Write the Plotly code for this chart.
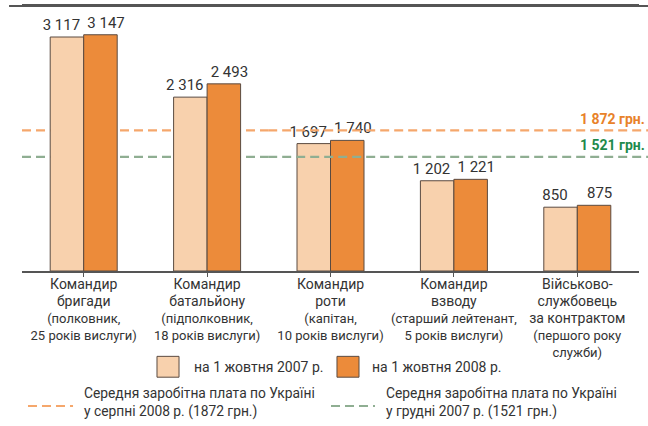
import plotly.graph_objects as go

categories_main = ["Командир<br>бригади", "Командир<br>батальйону", "Командир<br>роти",
                   "Командир<br>взводу", "Військово-<br>службовець<br>за контрактом"]
categories_sub = ["(полковник,<br>25 років вислуги)", "(підполковник,<br>18 років вислуги)",
                  "(капітан,<br>10 років вислуги)", "(старший лейтенант,<br>5 років вислуги)",
                  "(першого року<br>служби)"]
values_2007 = [3117, 2316, 1697, 1202, 850]
values_2008 = [3147, 2493, 1740, 1221, 875]
avg_aug_2008 = 1872
avg_dec_2007 = 1521
series_names = ["на 1 жовтня 2007 р.", "на 1 жовтня 2008 р."]
line_names = ["Середня заробітна плата по Україні<br>у серпні 2008 р. (1872 грн.)",
              "Середня заробітна плата по Україні<br>у грудні 2007 р. (1521 грн.)"]

FONT = "Roboto, Liberation Sans, sans-serif"
TXT = "#333333"
LIGHT = "#f8d1ad"
DARK = "#ec8b3a"
EDGE = "#5a4a40"
ORANGE_LINE = "#f5a76c"
GREEN_LINE = "#8fae92"

PLOT_H = 267.0

cats = list(range(len(values_2007)))
labels = [f"<span style='font-size:14px'>{m}</span><br>{s}"
          for m, s in zip(categories_main, categories_sub)]

def fmt(v):
    return f"{v:,}".replace(",", " ")

def py(px):
    return -(px - 271) / PLOT_H

PAD = "\u00a0\u00a0\u00a0"

fig = go.Figure()
fig.add_bar(x=cats, y=values_2007, name=series_names[0], marker=dict(color=LIGHT, line=dict(color=EDGE, width=1)),
            text=[fmt(v) + PAD for v in values_2007], textposition="outside", cliponaxis=False,
            constraintext="none", textfont=dict(family=FONT, size=15, color=TXT))
fig.add_bar(x=cats, y=values_2008, name=series_names[1], marker=dict(color=DARK, line=dict(color=EDGE, width=1)),
            text=[PAD + fmt(v) for v in values_2008], textposition="outside", cliponaxis=False,
            constraintext="none", textfont=dict(family=FONT, size=15, color=TXT))

# average lines: behind the two tallest groups, over the rest
SPLIT = 0.399
for val, col in [(avg_aug_2008, ORANGE_LINE), (avg_dec_2007, GREEN_LINE)]:
    fig.add_shape(type="line", xref="paper", yref="y", x0=0, x1=SPLIT, y0=val, y1=val,
                  line=dict(color=col, width=2.2, dash="9px,5px"), layer="below")
    fig.add_shape(type="line", xref="paper", yref="y", x0=SPLIT, x1=1.0146, y0=val, y1=val,
                  line=dict(color=col, width=2.2, dash="9px,5px"), layer="above")

fig.add_annotation(xref="paper", yref="y", x=1.013, y=avg_aug_2008, xanchor="right", yanchor="bottom",
                   yshift=1, text=f"<b>{fmt(avg_aug_2008)} грн.</b>", showarrow=False,
                   font=dict(family=FONT, size=14, color="#e8822a"))
fig.add_annotation(xref="paper", yref="y", x=1.013, y=avg_dec_2007, xanchor="right", yanchor="bottom",
                   yshift=2, text=f"<b>{fmt(avg_dec_2007)} грн.</b>", showarrow=False,
                   font=dict(family=FONT, size=14, color="#1f8a4c"))

# top border line at the plot top
fig.add_shape(type="line", xref="paper", yref="paper", x0=-0.021, x1=1.015, y0=1, y1=1,
              line=dict(color="#555555", width=2), layer="above")

# custom legend
for (x0, x1, col, name, tx) in [(0.2188, 0.2545, LIGHT, series_names[0], 0.2755),
                                (0.5105, 0.5462, DARK, series_names[1], 0.564)]:
    fig.add_shape(type="rect", xref="paper", yref="paper", x0=x0, x1=x1,
                  y0=py(378), y1=py(357),
                  fillcolor=col, line=dict(color=EDGE, width=1))
    fig.add_annotation(xref="paper", yref="paper", x=tx, y=py(368), xanchor="left", yanchor="middle",
                       text=name, showarrow=False, font=dict(family=FONT, size=14, color=TXT))

for (x0, x1, col, name, tx) in [(0.0097, 0.0827, ORANGE_LINE, line_names[0], 0.0972),
                                (0.5008, 0.5721, GREEN_LINE, line_names[1], 0.5867)]:
    fig.add_shape(type="line", xref="paper", yref="paper", x0=x0, x1=x1,
                  y0=py(407), y1=py(407),
                  line=dict(color=col, width=2.2, dash="9px,5px"))
    fig.add_annotation(xref="paper", yref="paper", x=tx, y=py(403.5), xanchor="left", yanchor="middle",
                       text=name, showarrow=False, align="left",
                       font=dict(family=FONT, size=13.8, color=TXT))

fig.update_layout(
    width=648, height=426,
    margin=dict(l=22, r=9, t=4, b=155),
    paper_bgcolor="white", plot_bgcolor="white",
    barmode="group", bargap=0.457, bargroupgap=0,
    showlegend=False,
    font=dict(family=FONT, color=TXT),
    xaxis=dict(tickmode="array", tickvals=cats, ticktext=labels, range=[-0.5, 4.5],
               showline=True, linecolor="#555555", linewidth=1.5, mirror=True,
               ticks="outside", tickson="boundaries", ticklen=4, tickcolor="#555555",
               ticklabelstandoff=-3,
               showgrid=False, tickfont=dict(family=FONT, size=13, color=TXT)),
    yaxis=dict(range=[0, 3530], visible=False, showgrid=False),
)

fig.write_html("out.html", config={"displayModeBar": False},
               post_script="document.body.style.margin='0';document.body.style.padding='0';")
